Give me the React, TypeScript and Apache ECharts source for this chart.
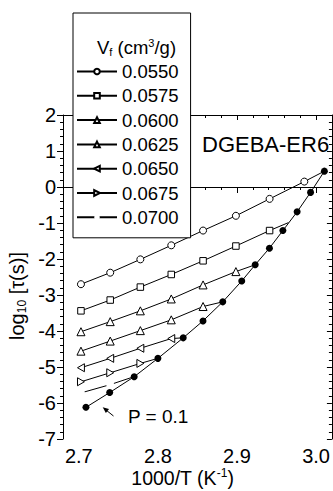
import React, { useEffect, useRef } from "react";
import * as echarts from "echarts";

const FONT = '"Liberation Sans", Arial, Helvetica, sans-serif';

// 1000/T positions of the isochoric points (T = 370 ... 335 K)
const xIso = [2.7027, 2.7397, 2.7778, 2.8169, 2.8571, 2.8986, 2.9412, 2.9851];

// isochores: last point of each is where the line meets the isobar
const x0550 = [...xIso, 3.0105];
const y0550 = [-2.7, -2.38, -2.01, -1.62, -1.21, -0.8, -0.33, 0.15, 0.44];
const x0575 = [...xIso.slice(0, 7), 2.965];
const y0575 = [-3.44, -3.14, -2.78, -2.43, -2.05, -1.64, -1.21, -0.99];
const x0600 = [...xIso.slice(0, 6), 2.923];
const y0600 = [-4.02, -3.74, -3.44, -3.11, -2.72, -2.35, -2.16];
const x0625 = [...xIso.slice(0, 5), 2.882];
const y0625 = [-4.56, -4.28, -3.99, -3.69, -3.32, -3.19];
const x0650 = [...xIso.slice(0, 4), 2.832];
const y0650 = [-5.02, -4.76, -4.48, -4.21, -4.19];
const x0675 = [...xIso.slice(0, 3), 2.8];
const y0675 = [-5.41, -5.16, -4.9, -4.76];
const x0700 = [...xIso.slice(0, 2), 2.7696];
const y0700 = [-5.72, -5.49, -5.27];

// isobar P = 0.1
const xP = [2.709, 2.739, 2.77, 2.8, 2.832, 2.857, 2.882, 2.906, 2.923, 2.941, 2.958, 2.976, 2.993, 3.0105];
const yP = [-6.12, -5.71, -5.27, -4.76, -4.19, -3.72, -3.19, -2.61, -2.16, -1.7, -1.21, -0.69, -0.15, 0.44];

const legendNames = ["0.0550", "0.0575", "0.0600", "0.0625", "0.0650", "0.0675", "0.0700"];
const xMajorTicks = [2.7, 2.8, 2.9, 3.0];
const xMinorTicks = [2.68, 2.72, 2.74, 2.76, 2.78, 2.82, 2.84, 2.86, 2.88, 2.92, 2.94, 2.96, 2.98, 3.02];

const LEFT_TRI = "path://M0,5L8.66,0L8.66,10Z";
const RIGHT_TRI = "path://M8.66,5L0,0L0,10Z";

function iso(name: string, xs: number[], ys: number[], symbol: string, size: number, border = 1) {
  return {
    name,
    type: "line",
    xAxisIndex: 0,
    yAxisIndex: 0,
    symbol,
    symbolSize: size,
    symbolKeepAspect: true,
    showAllSymbol: true,
    itemStyle: { color: "#fff", borderColor: "#000", borderWidth: border },
    lineStyle: { color: "#000", width: 1 },
    emphasis: { disabled: true },
    data: xs.map((x, i) =>
      i === xs.length - 1 ? { value: [x, ys[i]], symbol: "none" } : [x, ys[i]]
    ),
  };
}

export default function App() {
  const ref = useRef<HTMLDivElement>(null);
  useEffect(() => {
    if (!ref.current) return;
    const chart = echarts.init(ref.current, undefined, { renderer: "svg" });
    const axisLine = { show: true, lineStyle: { color: "#000", width: 1 } };
    const baseX = { type: "value", min: 2.68, max: 3.02, splitLine: { show: false } };
    const baseY = { type: "value", min: -7, max: 2, interval: 1, splitLine: { show: false } };
    const richMain = { fontSize: 19.5, fontFamily: FONT };
    const richSub = { fontSize: 12, fontFamily: FONT, padding: [10, 0, 0, 0] };
    const richSup = { fontSize: 12, fontFamily: FONT, padding: [0, 0, 10, 0] };
    chart.setOption({
      animation: false,
      backgroundColor: "#fff",
      grid: { left: 63, top: 115, width: 269, height: 324 },
      xAxis: [
        {
          ...baseX,
          position: "bottom",
          axisLine,
          axisTick: { show: true, customValues: xMajorTicks, length: 6, lineStyle: { color: "#000" } },
          axisLabel: {
            customValues: xMajorTicks,
            formatter: (v: number) => v.toFixed(1),
            fontSize: 20,
            fontFamily: FONT,
            color: "#000",
            margin: 7,
          },
        },
        {
          ...baseX,
          position: "bottom",
          axisLine: { show: false },
          axisTick: { show: true, customValues: xMinorTicks, length: 3, lineStyle: { color: "#000" } },
          axisLabel: { show: false },
        },
        {
          ...baseX,
          position: "top",
          axisLine,
          axisTick: { show: true, inside: true, customValues: xMajorTicks, length: 5, lineStyle: { color: "#000" } },
          axisLabel: { show: false },
        },
        {
          ...baseX,
          position: "top",
          axisLine: { show: false },
          axisTick: { show: true, inside: true, customValues: xMinorTicks, length: 3, lineStyle: { color: "#000" } },
          axisLabel: { show: false },
        },
      ],
      yAxis: [
        {
          ...baseY,
          position: "left",
          axisLine,
          axisTick: { show: true, length: 6, lineStyle: { color: "#000" } },
          minorTick: { show: true, splitNumber: 5, length: 3, lineStyle: { color: "#000" } },
          axisLabel: { fontSize: 20, fontFamily: FONT, color: "#000", margin: 7 },
        },
        {
          ...baseY,
          position: "right",
          axisLine,
          axisTick: { show: true, inside: true, length: 5, lineStyle: { color: "#000" } },
          minorTick: { show: true, splitNumber: 5, length: 3, lineStyle: { color: "#000" } },
          axisLabel: { show: false },
        },
      ],
      legend: {
        data: legendNames,
        orient: "vertical",
        left: 73,
        top: 13,
        padding: [49, 12, 11, 3],
        backgroundColor: "#fff",
        borderColor: "#000",
        borderWidth: 1,
        itemWidth: 40,
        itemHeight: 7,
        itemGap: 5.3,
        selectedMode: false,
        textStyle: { fontSize: 18.5, fontFamily: FONT, color: "#000", lineHeight: 18 },
        z: 10,
      },
      graphic: [
        {
          type: "text",
          z: 200,
          x: 97,
          y: 47,
          style: {
            x: 0,
            y: 0,
            text: "{a|V}{b|f}{a| (cm}{c|3}{a|/g)}",
            align: "left",
            verticalAlign: "middle",
            fill: "#000",
            rich: {
              a: { fontSize: 18.5, fontFamily: FONT },
              b: { fontSize: 11, fontFamily: FONT, padding: [9, 0, 0, 0] },
              c: { fontSize: 11, fontFamily: FONT, padding: [0, 0, 9, 0] },
            },
          },
        },
        {
          type: "text",
          z: 200,
          x: 182.5,
          y: 478,
          style: {
            x: 0,
            y: 0,
            text: "{a|1000/T (K}{c|-1}{a|)}",
            align: "center",
            verticalAlign: "middle",
            fill: "#000",
            rich: { a: richMain, c: richSup },
          },
        },
        {
          type: "text",
          z: 200,
          x: 17,
          y: 296,
          rotation: Math.PI / 2,
          style: {
            x: 0,
            y: 0,
            text: "{a|log}{b|10}{a| [τ(s)]}",
            align: "center",
            verticalAlign: "middle",
            fill: "#000",
            rich: { a: { fontSize: 20, fontFamily: FONT }, b: richSub },
          },
        },
        {
          type: "text",
          z: 200,
          style: {
            x: 202,
            y: 144,
            text: "DGEBA-ER6",
            font: `22px ${FONT}`,
            align: "left",
            verticalAlign: "middle",
            fill: "#000",
          },
        },
        {
          type: "text",
          z: 200,
          style: {
            x: 128,
            y: 416,
            text: "P = 0.1",
            font: `19px ${FONT}`,
            align: "left",
            verticalAlign: "middle",
            fill: "#000",
          },
        },
        {
          type: "line",
          z: 200,
          shape: { x1: 113.5, y1: 416, x2: 106, y2: 410 },
          style: { stroke: "#000", lineWidth: 1 },
        },
        {
          type: "polygon",
          z: 200,
          shape: { points: [[102.7, 407.3], [109, 409.1], [105.9, 413]] },
          style: { fill: "#000" },
        },
      ],
      series: [
        iso("0.0550", x0550, y0550, "circle", 7),
        iso("0.0575", x0575, y0575, "rect", 6.5),
        iso("0.0600", x0600, y0600, "triangle", 8),
        iso("0.0625", x0625, y0625, "triangle", 8),
        iso("0.0650", x0650, y0650, LEFT_TRI, 8),
        iso("0.0675", x0675, y0675, RIGHT_TRI, 8),
        iso("0.0700", x0700, y0700, "circle", 8, 0),
        {
          name: "P = 0.1",
          type: "line",
          symbol: "circle",
          symbolSize: 7,
          showAllSymbol: true,
          itemStyle: { color: "#000" },
          lineStyle: { color: "#000", width: 1 },
          emphasis: { disabled: true },
          data: xP.map((x, i) => [x, yP[i]]),
          z: 5,
        },
      ],
    });
    return () => chart.dispose();
  }, []);
  return <div ref={ref} style={{ position: "fixed", left: 0, top: 0, width: 333, height: 491 }} />;
}
